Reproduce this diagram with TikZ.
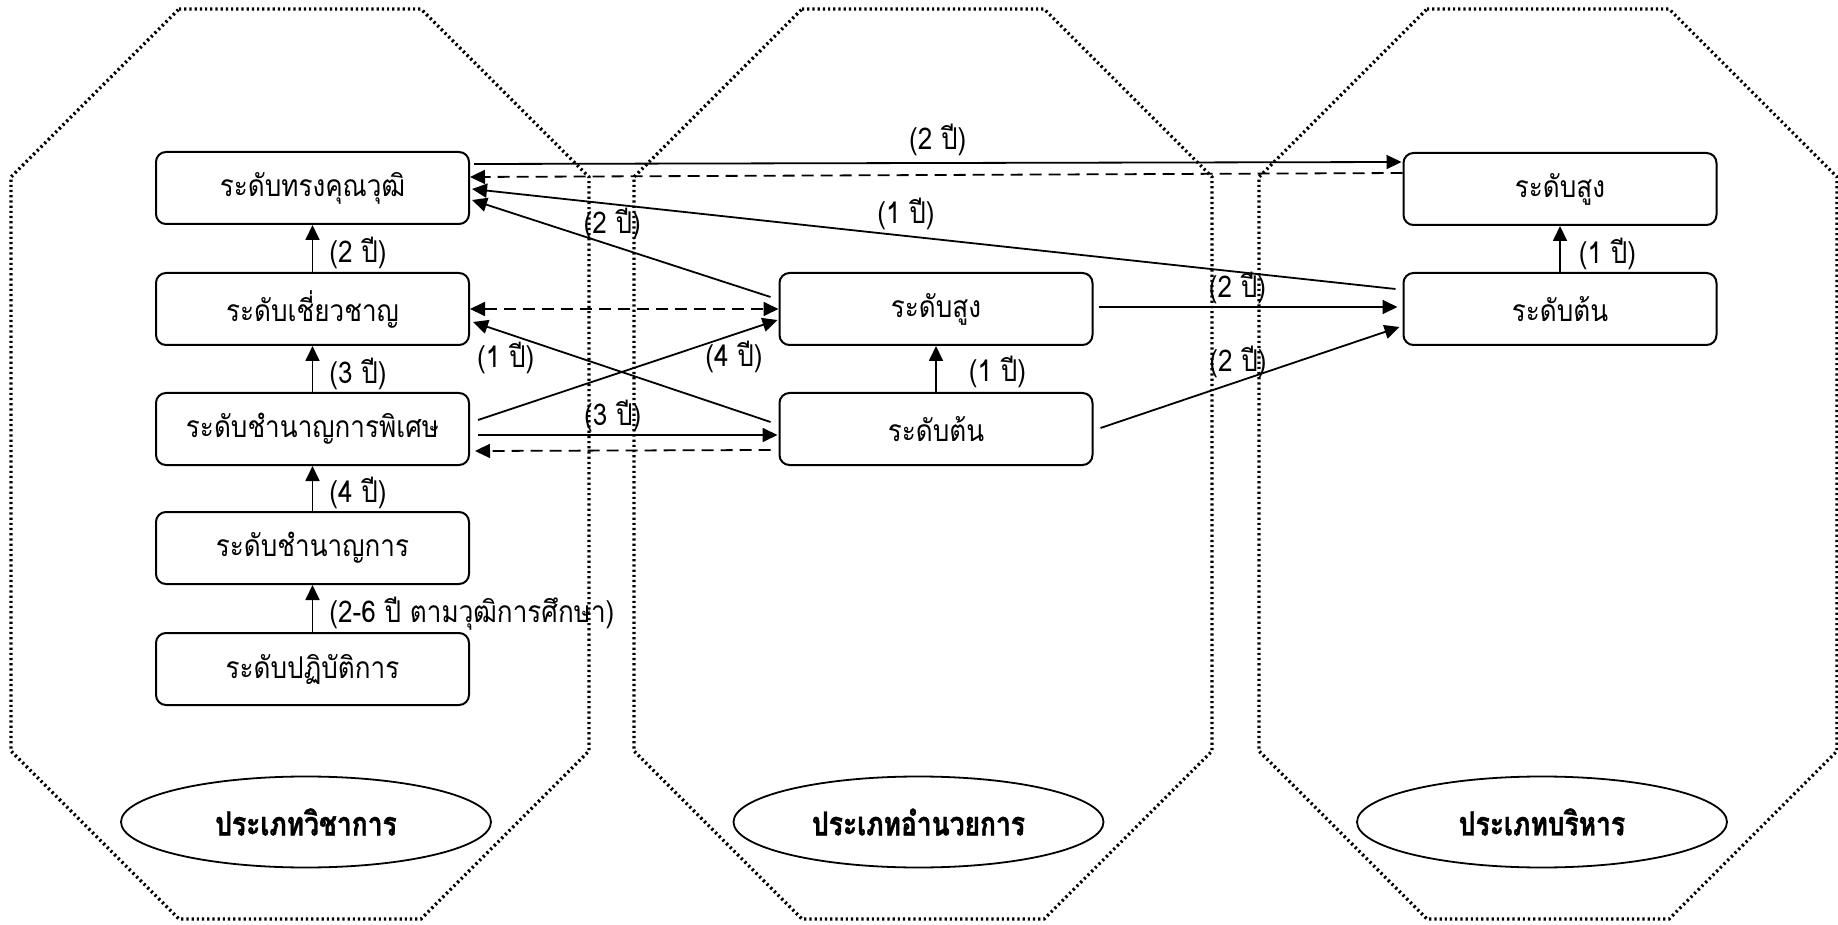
\documentclass[tikz,border=0pt]{standalone}
\usepackage{fontspec}
\newfontfamily\thai[Script=Thai,FakeStretch=0.87]{Loma}
\newfontfamily\thaib[Script=Thai,FakeStretch=0.8,FakeBold=1.2]{Loma Bold}
\usetikzlibrary{arrows.meta,calc,shapes.geometric}
\begin{document}
\begin{tikzpicture}[x=0.5pt,y=-0.5pt,
  font=\thai\fontsize{15}{17}\selectfont,
  box/.style={draw,line width=1pt,rounded corners=5pt,minimum width=156.5pt,minimum height=36pt,inner sep=0pt},
  cat/.style={draw,ellipse,line width=0.9pt,minimum width=185pt,minimum height=45.5pt,inner sep=0pt,font=\thaib\fontsize{16.5}{18}\selectfont},
  oct/.style={line width=1.6pt,dash pattern=on 1.1pt off 1.5pt},
  conn/.style={line width=0.9pt,-{Triangle[length=7.5pt,width=7pt]}},
  dconn/.style={conn,dash pattern=on 6pt off 3.5pt},
  bidir/.style={line width=0.9pt,dash pattern=on 6pt off 3.5pt,{Triangle[length=7.5pt,width=7pt]}-{Triangle[length=7.5pt,width=7pt]}},
  lab/.style={inner sep=1pt}
]
\useasboundingbox (0,0) rectangle (1838,925);
% category octagons
\foreach \dx in {0,623,1248}{
  \draw[oct,xshift=\dx*0.5pt] (179,9) -- (421,9) -- (589,177) -- (589,751) -- (421,919) -- (179,919) -- (11,751) -- (11,177) -- cycle;
}
% boxes
\node[box] (b1) at (312.5,188) {ระดับทรงคุณวุฒิ};
\node[box] (b2) at (312.5,309) {ระดับเชี่ยวชาญ};
\node[box] (b3) at (312.5,429) {ระดับชำนาญการพิเศษ};
\node[box] (b4) at (312.5,548) {ระดับชำนาญการ};
\node[box] (b5) at (312.5,669) {ระดับปฏิบัติการ};
\node[box] (m1) at (936,309) {ระดับสูง};
\node[box] (m2) at (936,429) {ระดับต้น};
\node[box] (r1) at (1560,189) {ระดับสูง};
\node[box] (r2) at (1560,309) {ระดับต้น};
% ellipses
\node[cat] (e1) at (306,822) {ประเภทวิชาการ};
\node[cat] (e2) at (918.5,822) {ประเภทอำนวยการ};
\node[cat] (e3) at (1542,822) {ประเภทบริหาร};
% vertical arrows
\draw[conn] (b2.north) -- node[lab,pos=0.4,right=7pt]{(2 ปี)} (b1.south);
\draw[conn] (b3.north) -- node[lab,pos=0.4,right=7pt]{(3 ปี)} (b2.south);
\draw[conn] (b4.north) -- node[lab,pos=0.4,right=7pt]{(4 ปี)} (b3.south);
\draw[conn] (b5.north) -- node[lab,pos=0.39,right=7pt]{(2-6 ปี ตามวุฒิการศึกษา)} (b4.south);
\draw[conn] (m2.north) -- node[lab,pos=0.44,right=15pt]{(1 ปี)} (m1.south);
\draw[conn] (r2.north) -- node[lab,pos=0.4,right=8pt]{(1 ปี)} (r1.south);
% cross arrows
\draw[conn] ($(b1.east)+(4,-24)$) -- node[lab,pos=0.5,above=2pt]{(2 ปี)} ($(r1.west)+(-1,-27)$);
\draw[dconn] ($(r1.west)+(0,-16)$) -- ($(b1.east)+(0,-11)$);
\draw[conn] ($(r2.west)+(-7,-20)$) -- node[lab,pos=0.53,above=1.5pt]{(1 ปี)} ($(b1.east)+(2,1)$);
\draw[conn] ($(m1.west)+(-8,-12)$) -- node[lab,pos=0.53,above=1.5pt]{(2 ปี)} ($(b1.east)+(2,12)$);
\draw[bidir] (b2.east) -- (m1.west);
\draw[conn] ($(m2.west)+(-8,-7)$) -- node[lab,pos=0.89,below=3pt]{(1 ปี)} ($(b2.east)+(3,13)$);
\draw[conn] ($(b3.east)+(8,-9)$) -- node[lab,pos=0.855,below=2pt]{(4 ปี)} ($(m1.west)+(-1,11)$);
\draw[conn] ($(b3.east)+(8,6)$) -- node[lab,pos=0.45,above=0pt]{(3 ปี)} ($(m2.west)+(-1,6)$);
\draw[dconn] ($(m2.west)+(-8,21)$) -- ($(b3.east)+(5,22)$);
\draw[conn] ($(m1.east)+(5,-2)$) -- node[lab,pos=0.465,above=0pt]{(2 ปี)} ($(r2.west)+(-5,-2)$);
\draw[conn] ($(m2.east)+(7,-1)$) -- node[lab,pos=0.46,above=0.5pt]{(2 ปี)} ($(r2.west)+(-3,18)$);
\end{tikzpicture}
\end{document}
